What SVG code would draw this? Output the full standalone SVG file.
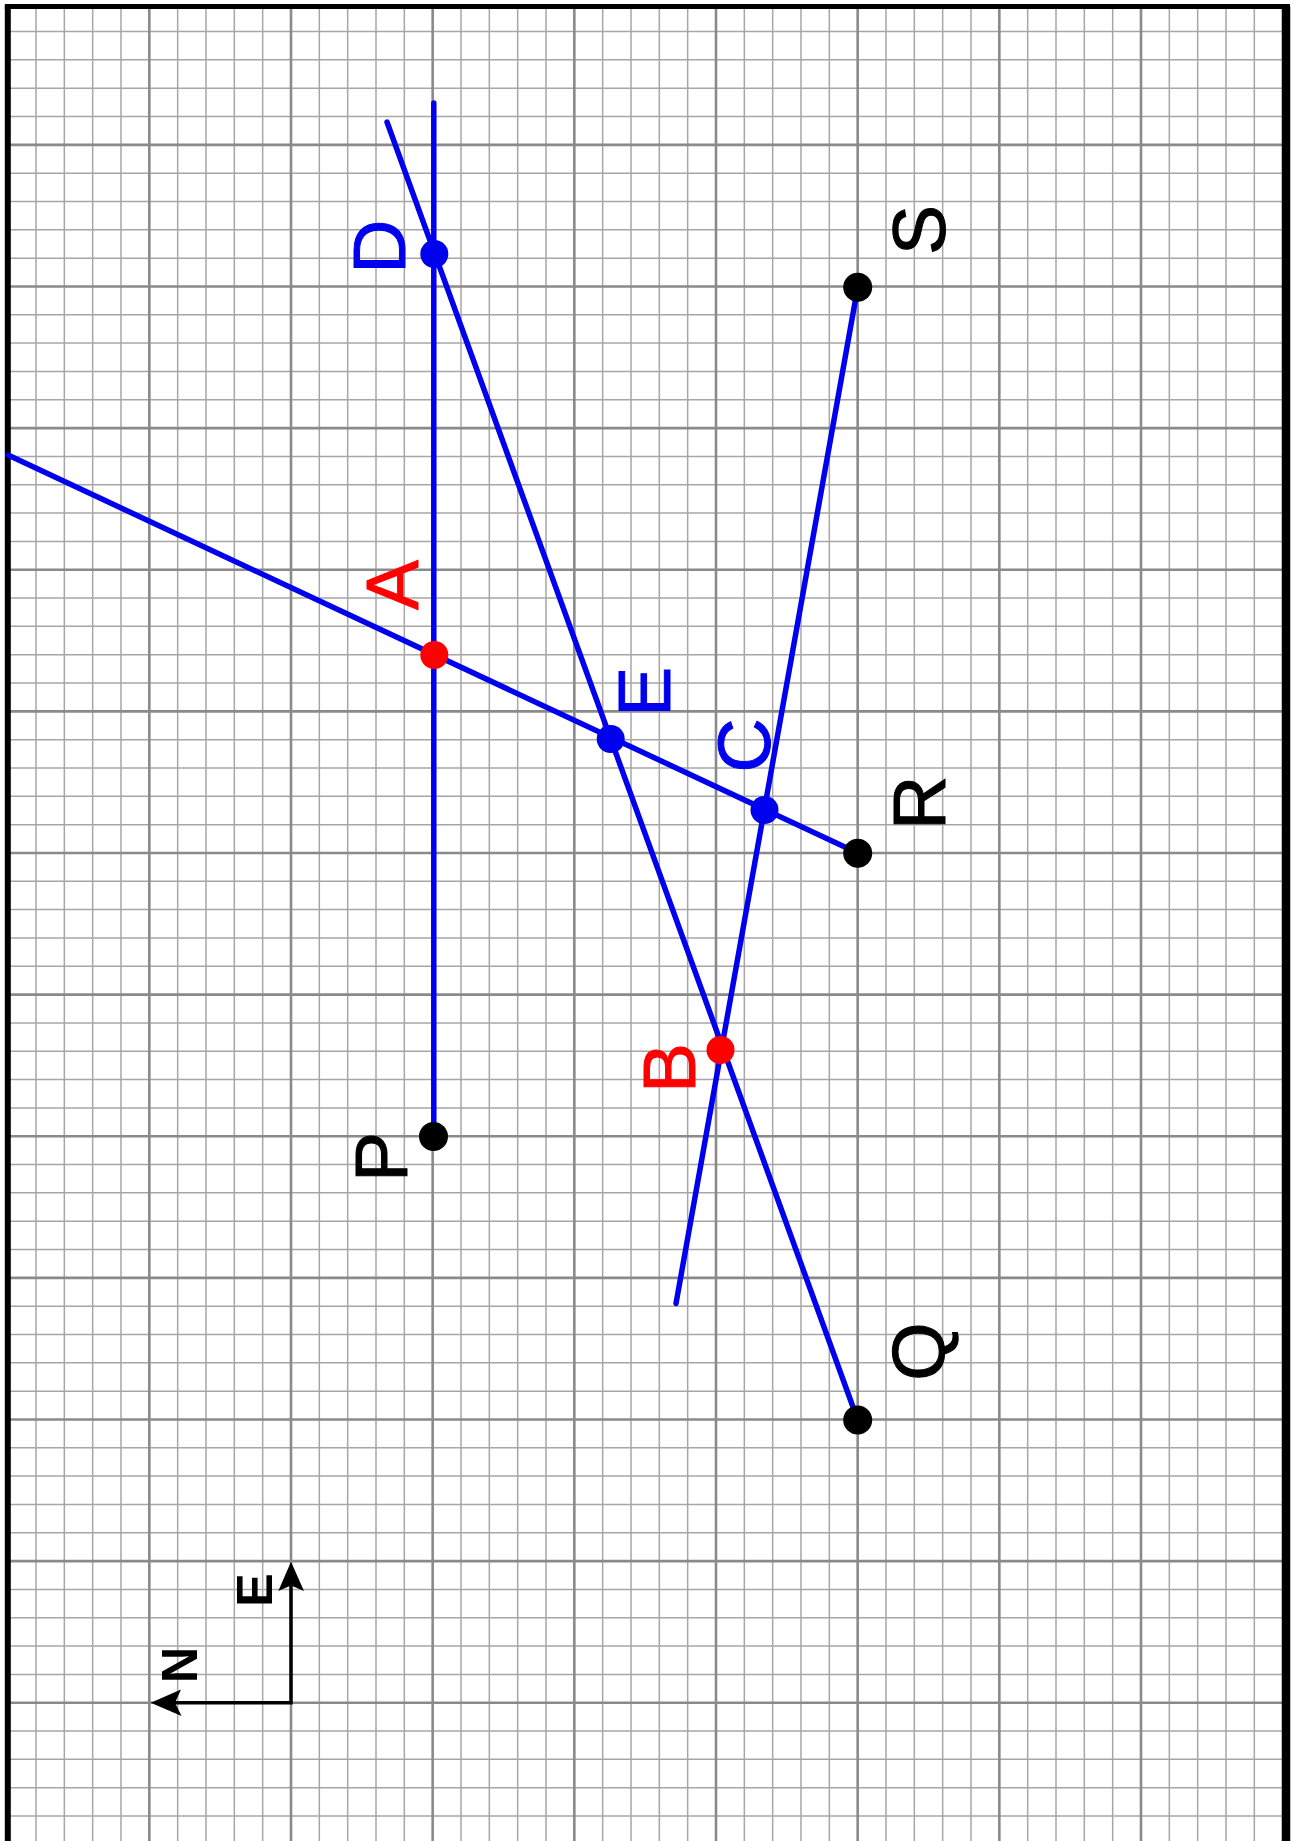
<svg xmlns="http://www.w3.org/2000/svg" width="1299" height="1841" viewBox="0 0 1299 1841">
<style>
.minor{stroke:#a6a6a6;stroke-width:1.5;fill:none}
.major{stroke:#8a8a8a;stroke-width:2.6;fill:none}
.border{stroke:#000;fill:none}
.ln{stroke:#0000ee;stroke-width:5.5;fill:none;stroke-linecap:round}
.dot-b{fill:#0000ee}
.dot-r{fill:#ff0000}
.dot-k{fill:#000}
.lbl{font-family:"Liberation Sans",Arial,sans-serif;font-size:75px;text-anchor:middle;stroke-width:1}
.lb{fill:#0000ee;stroke:#0000ee}.lr{fill:#ff0000;stroke:#ff0000}.lk{fill:#000;stroke:#000}
.cmp{font-family:"Liberation Sans",Arial,sans-serif;font-size:50px;font-weight:bold;text-anchor:middle;fill:#000}
.cl{stroke:#000;stroke-width:3.5;fill:none}
</style>
<rect x="0" y="0" width="1299" height="1841" fill="#fff"/>
<g id="grid">
<path class="minor" d="M36,0V1841M64.33,0V1841M92.67,0V1841M121,0V1841M177.67,0V1841M206,0V1841M234.33,0V1841M262.67,0V1841M319.33,0V1841M347.67,0V1841M376,0V1841M404.33,0V1841M461,0V1841M489.33,0V1841M517.67,0V1841M546,0V1841M602.67,0V1841M631,0V1841M659.33,0V1841M687.67,0V1841M744.33,0V1841M772.67,0V1841M801,0V1841M829.33,0V1841M886,0V1841M914.33,0V1841M942.67,0V1841M971,0V1841M1027.67,0V1841M1056,0V1841M1084.33,0V1841M1112.67,0V1841M1169.33,0V1841M1197.67,0V1841M1226,0V1841M1254.33,0V1841
M0,31.53H1299M0,59.85H1299M0,88.18H1299M0,116.5H1299M0,173.15H1299M0,201.48H1299M0,229.8H1299M0,258.13H1299M0,314.78H1299M0,343.1H1299M0,371.43H1299M0,399.75H1299M0,456.4H1299M0,484.73H1299M0,513.05H1299M0,541.38H1299M0,598.03H1299M0,626.35H1299M0,654.68H1299M0,683H1299M0,739.65H1299M0,767.98H1299M0,796.3H1299M0,824.63H1299M0,881.28H1299M0,909.6H1299M0,937.93H1299M0,966.25H1299M0,1022.9H1299M0,1051.23H1299M0,1079.55H1299M0,1107.88H1299M0,1164.53H1299M0,1192.85H1299M0,1221.18H1299M0,1249.5H1299M0,1306.15H1299M0,1334.48H1299M0,1362.8H1299M0,1391.13H1299M0,1447.78H1299M0,1476.1H1299M0,1504.43H1299M0,1532.75H1299M0,1589.4H1299M0,1617.73H1299M0,1646.05H1299M0,1674.38H1299M0,1731.03H1299M0,1759.35H1299M0,1787.68H1299M0,1816H1299"/>
<path class="major" d="M149.33,0V1841M291,0V1841M432.67,0V1841M574.33,0V1841M716,0V1841M857.67,0V1841M999.33,0V1841M1141,0V1841
M0,144.83H1299M0,286.45H1299M0,428.08H1299M0,569.7H1299M0,711.33H1299M0,852.95H1299M0,994.58H1299M0,1136.2H1299M0,1277.83H1299M0,1419.45H1299M0,1561.08H1299M0,1702.7H1299"/>
<rect x="1290" y="0" width="9" height="1841" fill="#fff"/>
<rect x="0" y="0" width="5" height="1841" fill="#fff"/>
<rect x="0" y="0" width="1299" height="4" fill="#fff"/>
<path class="border" stroke-width="6" d="M7.8,1841V6.5"/>
<path class="border" stroke-width="8.5" d="M1286,1841V6.5"/>
<path class="border" stroke-width="5" d="M4.8,6.5H1290"/>
</g>
<g id="connectors">
<path class="ln" d="M433.8,1136.5V103"/>
<path class="ln" d="M857.7,1420L387,122"/>
<path class="ln" d="M857.7,853L8,455"/>
<path class="ln" d="M857.7,287.3L676,1303.5"/>
</g>
<g id="node-D"><circle class="dot-b" cx="434.3" cy="254" r="14"/><text class="lbl lb" transform="translate(405,246.7) rotate(-90)">D</text></g>
<g id="node-A"><circle class="dot-r" cx="434.3" cy="655" r="14"/><text class="lbl lr" transform="translate(418,585) rotate(-90)">A</text></g>
<g id="node-E"><circle class="dot-b" cx="610.7" cy="739" r="14"/><text class="lbl lb" transform="translate(670,691.7) rotate(-90)">E</text></g>
<g id="node-C"><circle class="dot-b" cx="764.5" cy="810" r="14"/><text class="lbl lb" transform="translate(770,745.5) rotate(-90)">C</text></g>
<g id="node-B"><circle class="dot-r" cx="720.5" cy="1050" r="14"/><text class="lbl lr" transform="translate(695,1068) rotate(-90)">B</text></g>
<g id="node-P"><circle class="dot-k" cx="433.5" cy="1136.5" r="14.5"/><text class="lbl lk" transform="translate(406.7,1157) rotate(-90)">P</text></g>
<g id="node-Q"><circle class="dot-k" cx="857.7" cy="1420" r="14.5"/><text class="lbl lk" transform="translate(944,1351.5) rotate(-90)">Q</text></g>
<g id="node-R"><circle class="dot-k" cx="857.7" cy="853.3" r="14.5"/><text class="lbl lk" transform="translate(945,803) rotate(-90)">R</text></g>
<g id="node-S"><circle class="dot-k" cx="857.7" cy="287.3" r="14.5"/><text class="lbl lk" transform="translate(945,230) rotate(-90)">S</text></g>
<g id="compass">
<path class="cl" d="M291,1585V1702.7H175"/>
<path d="M291,1561.7L304,1591L291,1585.5L278.3,1591Z" fill="#000"/>
<path d="M150.7,1702.7L181,1689.5L175,1702.7L181.5,1716Z" fill="#000"/>
<text class="cmp" transform="translate(271.7,1590) rotate(-90)">E</text>
<text class="cmp" transform="translate(196.7,1665) rotate(-90)">N</text>
</g>
</svg>
